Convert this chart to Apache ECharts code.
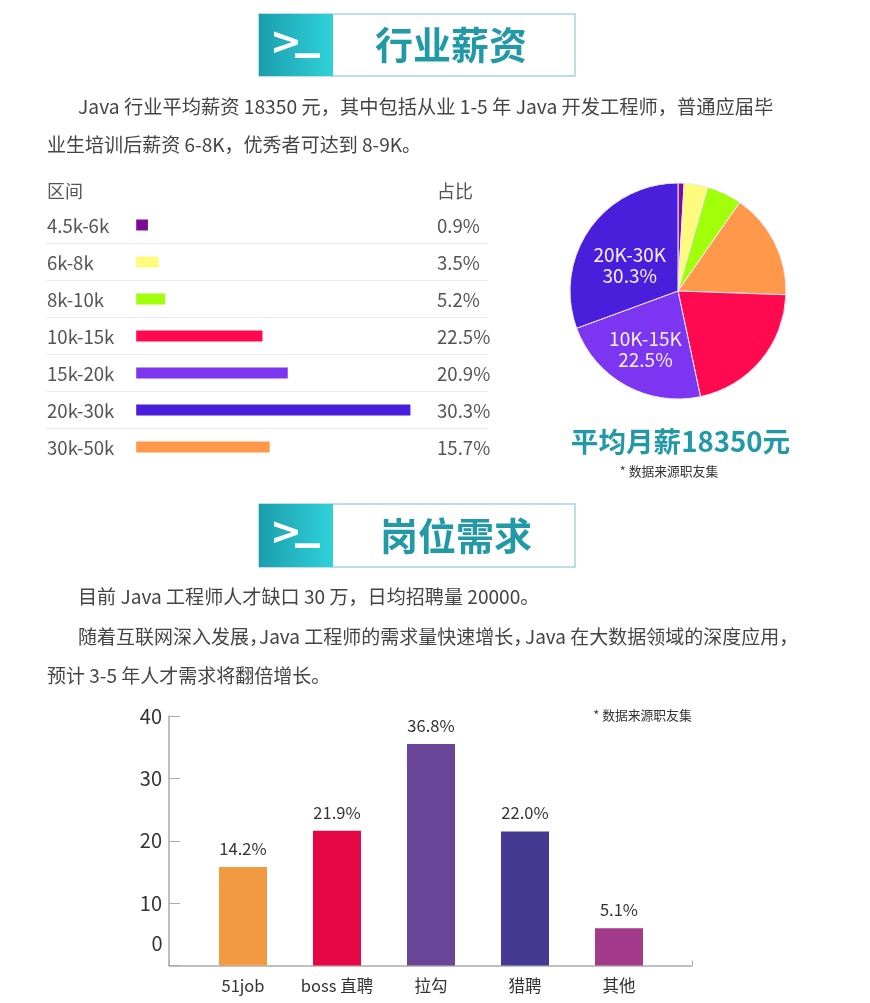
<!DOCTYPE html>
<html>
<head>
<meta charset="utf-8">
<style>
  html, body { margin: 0; padding: 0; background: #fff; }
  #main { width: 870px; height: 1003px; }
</style>
<script src="https://cdn.jsdelivr.net/npm/echarts@6/dist/echarts.min.js"></script>
</head>
<body>
<div id="main"></div>
<script>
// 行业薪资 表格
const salaryRanges = ["4.5k-6k", "6k-8k", "8k-10k", "10k-15k", "15k-20k", "20k-30k", "30k-50k"];
const salaryPercents = ["0.9%", "3.5%", "5.2%", "22.5%", "20.9%", "30.3%", "15.7%"];
const salaryBarLengths = [1.3, 2.5, 3.2, 14, 16.8, 30.4, 14.8];
const salaryBarColors = ["#7f0a95", "#fffb7c", "#a2ff0a", "#ff0a50", "#7c35f0", "#4a1fdc", "#ff984a"];

// 饼图
const pieNames = ["4.5K-6K", "6K-8K", "8K-10K", "30K-50K", "15K-20K", "10K-15K", "20K-30K"];
const pieValues = [0.9, 3.5, 5.2, 15.7, 20.9, 22.5, 30.3];
const pieColors = ["#7f0a95", "#fffb7c", "#a2ff0a", "#ff984a", "#ff0a50", "#7c35f0", "#4a1fdc"];

// 岗位需求 柱状图
const jobSites = ["51job", "boss 直聘", "拉勾", "猎聘", "其他"];
const jobBarHeights = [15.8, 21.6, 35.5, 21.5, 6];
const jobLabels = ["14.2%", "21.9%", "36.8%", "22.0%", "5.1%"];
const jobColors = ["#f29a42", "#e50646", "#6a4496", "#443a91", "#a43a8c"];

const FONT = '"Noto Sans CJK SC", "Noto Sans", sans-serif';
const TEAL = "#2199a6";

function text(x, y, str, size, color, extra) {
  return {
    type: "text",
    x,
    y,
    silent: true,
    style: Object.assign({
      text: str,
      fontFamily: FONT,
      fontSize: size,
      fill: color,
      verticalAlign: "middle",
    }, extra),
  };
}

// 标题块：左边渐变图标 + 右边文字
function header(x, y, w, h, title, titleX) {
  return [
    {
      type: "rect",
      shape: { x, y, width: w, height: h },
      style: { fill: "#fff", stroke: "#a5d6da", lineWidth: 1.5 },
    },
    {
      type: "rect",
      shape: { x, y, width: 74, height: h },
      style: {
        fill: new echarts.graphic.LinearGradient(0, 0, 1, 0, [
          { offset: 0, color: "#1b9eac" },
          { offset: 1, color: "#2fd1da" },
        ]),
      },
    },
    text(x + 11, y + 30, ">", 38, "#fff", { fontWeight: "bold", fontFamily: "DejaVu Sans" }),
    text(x + 36, y + 19, "_", 50, "#fff", { fontWeight: "bold", fontFamily: "DejaVu Sans" }),
    text(titleX, y + h / 2, title, 38, TEAL, { fontWeight: "bold", align: "center" }),
  ];
}

// 表格文字用 rich 往下压一点
const tableRich = {
  t: { fontFamily: FONT, fontSize: 18.6, color: "#555", padding: [2, 0, 0, 0] },
};

const bodyColor = "#444";
const graphics = [].concat(
  header(259, 14, 316, 62, "行业薪资", 451),
  header(259, 504, 316, 63, "岗位需求", 456),
  [
    text(78, 107, "Java 行业平均薪资 18350 元，其中包括从业 1-5 年 Java 开发工程师，普通应届毕", 19.25, bodyColor),
    text(47, 145, "业生培训后薪资 6-8K，优秀者可达到 8-9K。", 19.05, bodyColor),
    text(47, 191, "区间", 18, "#555"),
    text(437, 191, "占比", 18, "#555"),
    text(680.5, 442, "平均月薪18350元", 27.6, TEAL, { fontWeight: "bold", align: "center" }),
    text(669, 471, "* 数据来源职友集", 12.8, "#333", { align: "center" }),
    text(78, 597, "目前 Java 工程师人才缺口 30 万，日均招聘量 20000。", 19.1, bodyColor),
    text(78, 637, "随着互联网深入发展，", 19, bodyColor),
    text(259, 637, "Java 工程师的需求量快速增长，", 19, bodyColor),
    text(525, 637, "Java 在大数据领域的深度应用，", 19, bodyColor),
    text(47, 676, "预计 3-5 年人才需求将翻倍增长。", 19, bodyColor),
    text(642.5, 715, "* 数据来源职友集", 12.8, "#333", { align: "center" }),
    text(157, 943, "0", 20, "#333", { align: "center" }),
  ]
);

const chart = echarts.init(document.getElementById("main"));
chart.setOption({
  animation: false,
  backgroundColor: "#fff",
  graphic: graphics,
  grid: [
    { left: 46, top: 206.5, width: 442, height: 259 },
    { left: 169, top: 716, width: 523, height: 249.6 },
    { left: 196, top: 716, width: 470, height: 249.6 },
  ],
  xAxis: [
    {
      gridIndex: 0,
      type: "value",
      min: -10,
      max: 39,
      show: false,
    },
    {
      // 只画底部的轴线
      gridIndex: 1,
      type: "category",
      boundaryGap: false,
      data: ["", ""],
      axisLine: { lineStyle: { color: "#aaa", width: 1.5 } },
      axisTick: { inside: true, length: 5, lineStyle: { color: "#aaa" } },
      axisLabel: { show: false },
    },
    {
      gridIndex: 2,
      type: "category",
      data: jobSites,
      axisLine: { show: false },
      axisTick: { show: false },
      axisLabel: { interval: 0, fontFamily: FONT, fontSize: 16.5, color: "#333", margin: 12 },
    },
  ],
  yAxis: [
    {
      gridIndex: 0,
      type: "category",
      inverse: true,
      data: salaryRanges,
      axisLine: { show: false },
      axisTick: { show: false },
      axisLabel: { inside: true, align: "left", margin: 1, interval: 0, formatter: "{t|{value}}", rich: tableRich },
      splitLine: { show: true, showMinLine: false, showMaxLine: false, lineStyle: { color: "#eaeaea" } },
    },
    {
      gridIndex: 0,
      type: "category",
      position: "right",
      inverse: true,
      data: salaryPercents,
      axisLine: { show: false },
      axisTick: { show: false },
      axisLabel: { inside: true, align: "left", margin: 51, interval: 0, formatter: "{t|{value}}", rich: tableRich },
    },
    {
      gridIndex: 1,
      type: "value",
      min: 0,
      max: 40,
      interval: 10,
      axisLine: { show: true, lineStyle: { color: "#aaa", width: 1.5 } },
      axisTick: { show: true, inside: true, length: 11, lineStyle: { color: "#aaa" } },
      splitLine: { show: false },
      axisLabel: {
        margin: 7,
        fontFamily: FONT,
        fontSize: 20,
        color: "#333",
        formatter: (v) => (v === 0 ? "" : String(v)),
      },
    },
    {
      gridIndex: 2,
      type: "value",
      min: 0,
      max: 40,
      show: false,
    },
  ],
  series: [
    {
      type: "bar",
      xAxisIndex: 0,
      yAxisIndex: 0,
      barWidth: 11,
      data: salaryBarLengths.map((v, i) => ({ value: v, itemStyle: { color: salaryBarColors[i] } })),
    },
    {
      type: "pie",
      center: [678, 291],
      radius: 108,
      startAngle: 90,
      clockwise: true,
      data: pieValues.map((v, i) => ({
        name: pieNames[i],
        value: v,
        itemStyle: { color: pieColors[i], borderColor: "#f3e9f5", borderWidth: 1 },
        label: v === 30.3 ? { offset: [-1.5, 6.5] } : v === 22.5 ? { offset: [-5, 8] } : {},
      })),
      labelLine: { show: false },
      label: {
        position: "inside",
        fontFamily: FONT,
        fontSize: 19,
        lineHeight: 21,
        color: "#f4f0ff",
        formatter: (p) => (p.value >= 22 ? p.name + "\n" + p.value + "%" : ""),
      },
    },
    {
      type: "bar",
      xAxisIndex: 2,
      yAxisIndex: 3,
      barWidth: 48,
      data: jobBarHeights.map((v, i) => ({
        value: v,
        itemStyle: { color: jobColors[i] },
        label: { formatter: jobLabels[i] },
      })),
      label: { show: true, position: "top", distance: 10, fontFamily: FONT, fontSize: 16.5, color: "#333" },
    },
  ],
});
</script>
</body>
</html>
